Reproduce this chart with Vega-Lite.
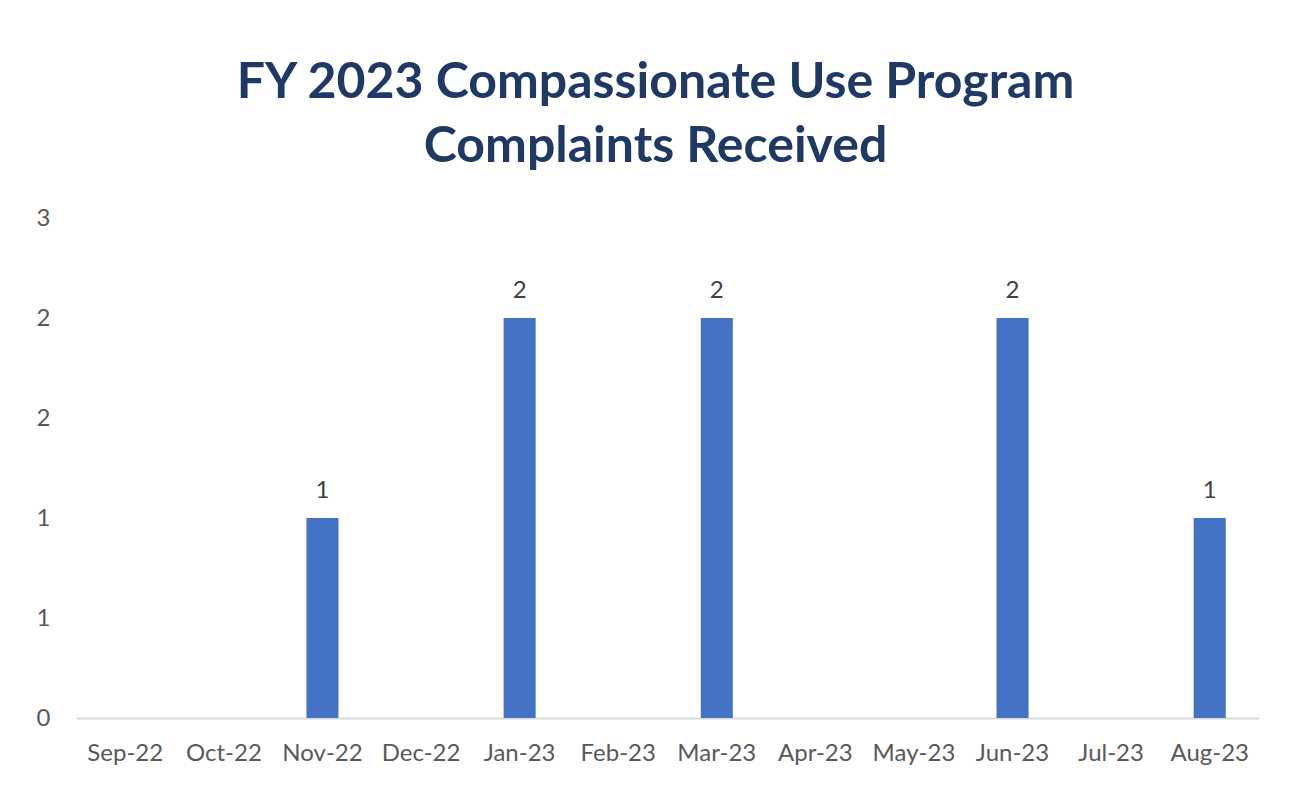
{
  "$schema": "https://vega.github.io/schema/vega-lite/v6.json",
  "autosize": "none",
  "width": 1183,
  "height": 500,
  "padding": {"left": 76, "top": 218, "right": 49, "bottom": 79},
  "background": "white",
  "title": {
    "text": ["FY 2023 Compassionate Use Program", "Complaints Received"],
    "anchor": "middle",
    "frame": "group",
    "dx": -12,
    "font": "Lato",
    "fontWeight": "bold",
    "fontSize": 50,
    "lineHeight": 64,
    "color": "#1F3864",
    "baseline": "alphabetic",
    "offset": -6
  },
  "data": {
    "values": [
      {"month": "Sep-22", "count": 0},
      {"month": "Oct-22", "count": 0},
      {"month": "Nov-22", "count": 1},
      {"month": "Dec-22", "count": 0},
      {"month": "Jan-23", "count": 2},
      {"month": "Feb-23", "count": 0},
      {"month": "Mar-23", "count": 2},
      {"month": "Apr-23", "count": 0},
      {"month": "May-23", "count": 0},
      {"month": "Jun-23", "count": 2},
      {"month": "Jul-23", "count": 0},
      {"month": "Aug-23", "count": 1}
    ]
  },
  "encoding": {
    "x": {
      "field": "month",
      "type": "nominal",
      "sort": null,
      "scale": {"paddingInner": 0.675, "paddingOuter": 0.3375},
      "axis": {
        "title": null,
        "labelAngle": 0,
        "labelFont": "Lato",
        "labelFontSize": 24,
        "labelColor": "#595959",
        "labelPadding": 23,
        "ticks": false,
        "domainColor": "#D9D9D9",
        "domainWidth": 2,
        "grid": false
      }
    },
    "y": {
      "field": "count",
      "type": "quantitative",
      "scale": {"domain": [0, 2.5], "nice": false},
      "axis": {
        "title": null,
        "values": [0, 0.5, 1, 1.5, 2, 2.5],
        "labelExpr": "format(round(datum.value), 'd')",
        "labelFont": "Lato",
        "labelFontSize": 24,
        "labelColor": "#595959",
        "labelPadding": 26,
        "ticks": false,
        "domain": false,
        "grid": false
      }
    }
  },
  "layer": [
    {"mark": {"type": "bar", "color": "#4472C4"}},
    {
      "transform": [{"filter": "datum.count > 0"}],
      "mark": {"type": "text", "baseline": "alphabetic", "dy": -20, "font": "Lato", "fontSize": 24, "color": "#404040"},
      "encoding": {"text": {"field": "count", "type": "quantitative"}}
    }
  ],
  "config": {"view": {"stroke": null}}
}
